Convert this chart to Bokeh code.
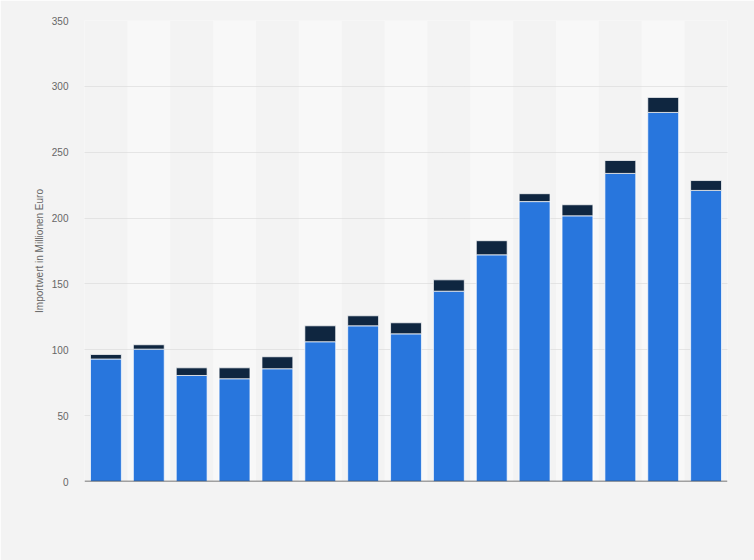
from bokeh.plotting import figure
from bokeh.models import ColumnDataSource, Span, FixedTicker, Range1d
from bokeh.embed import file_html
from bokeh.resources import INLINE

# ---- data ----
categories = [str(y) for y in range(2008, 2023)]
main_values = [93.0, 100.5, 80.5, 78.0, 85.6, 106.1, 118.2, 112.1, 144.5, 172.1, 212.5, 201.7, 233.9, 280.2, 221.0]
extra_values = [3.4, 3.3, 5.8, 8.3, 9.1, 12.1, 7.6, 8.4, 8.6, 10.7, 6.0, 8.4, 9.8, 11.4, 7.5]
y_ticks = [0, 50, 100, 150, 200, 250, 300, 350]
y_label = "Importwert in Millionen Euro"

BLUE = "#2876dd"
DARK = "#0f2640"
BG = "#f3f3f3"
BAND = "#f8f8f8"

totals = [m + e for m, e in zip(main_values, extra_values)]
src = ColumnDataSource(dict(cat=categories, main=main_values, total=totals))

p = figure(x_range=categories, y_range=Range1d(0, 350), width=754, height=560,
           output_backend="svg", toolbar_location=None,
           min_border_left=84, min_border_right=27, min_border_top=20, min_border_bottom=79)
p.background_fill_color = BG
p.border_fill_color = BG
p.outline_line_color = None

# alternating column bands
band_cats = categories[1::2]
p.vbar(x=band_cats, top=[y_ticks[-1]] * len(band_cats), bottom=0, width=1.0,
       fill_color=BAND, line_color=None, level="underlay")

# bars
p.vbar(x="cat", top="main", bottom=0, width=0.72, source=src,
       fill_color=BLUE, line_color="white", line_alpha=0.7, line_width=1)
p.vbar(x="cat", top="total", bottom="main", width=0.72, source=src,
       fill_color=DARK, line_color="white", line_alpha=0.7, line_width=1)

# baseline
p.add_layout(Span(location=0, dimension="width", line_color="#4a4a4a", line_width=1.5))

# axes
p.xaxis.visible = False
p.xgrid.visible = False
yax = p.yaxis[0]
yax.ticker = FixedTicker(ticks=y_ticks)
yax.axis_line_color = None
yax.major_tick_line_color = None
yax.minor_tick_line_color = None
yax.major_tick_out = 0
yax.major_tick_in = 0
yax.minor_tick_out = 0
yax.minor_tick_in = 0
yax.major_label_standoff = 16
yax.major_label_text_font = "Liberation Sans"
yax.major_label_text_font_size = "10px"
yax.major_label_text_color = "#666666"
yax.axis_label = y_label
yax.axis_label_text_font = "Liberation Sans"
yax.axis_label_text_font_size = "10px"
yax.axis_label_text_font_style = "normal"
yax.axis_label_text_color = "#666666"
yax.axis_label_standoff = 4

p.ygrid.grid_line_color = "#d2d2d2"
p.ygrid.grid_line_dash = "1 1"
p.ygrid.grid_line_width = 1

html = file_html(p, INLINE)
html = html.replace("<body>", '<body style="margin:0;background:#f3f3f3;">', 1)
open("out.html", "w").write(html)
